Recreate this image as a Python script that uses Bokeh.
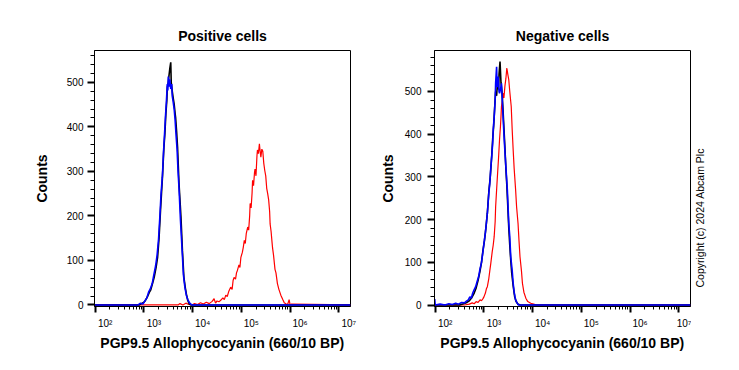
import numpy as np
from bokeh.plotting import figure
from bokeh.layouts import row
from bokeh.models import (Range1d, LogAxis, LogTicker, LogScale, SingleIntervalTicker,
                          CustomJSTickFormatter, Title)
from bokeh.embed import file_html
from bokeh.resources import INLINE

FONT = "Liberation Sans"

# ---------------- data (x as log10 of fluorescence intensity, y as counts) ----------------
x_log_min = 1.985
x_log_max = 7.24
y_ticks_interval = 100

# Positive cells
pos_black_log = [1.985, 2.90, 2.95, 3.00, 3.03, 3.07, 3.11, 3.14, 3.18, 3.21, 3.25, 3.28, 3.31, 3.34, 3.36,
                 3.38, 3.41, 3.43, 3.45, 3.47, 3.48, 3.50, 3.51, 3.53, 3.55, 3.56, 3.58, 3.60, 3.62, 3.64,
                 3.65, 3.67, 3.69, 3.72, 3.74, 3.76, 3.79, 3.82, 3.85, 3.87, 3.90, 3.93, 3.97, 7.24]
pos_black_cnt = [0, 0, 3, 6, 10, 18, 28, 34, 50, 62, 85, 107, 150, 212, 250,
                 287, 354, 385, 429, 460, 489, 500, 511, 530, 545, 500, 481, 465, 451, 430,
                 421, 390, 354, 272, 235, 197, 122, 62, 38, 25, 10, 2, 0, 0]

pos_blue_log = [1.985, 2.88, 2.93, 2.98, 3.02, 3.06, 3.10, 3.13, 3.17, 3.20, 3.24, 3.27, 3.30, 3.33, 3.35,
                3.38, 3.40, 3.42, 3.44, 3.46, 3.48, 3.49, 3.50, 3.52, 3.53, 3.55, 3.57, 3.58, 3.60, 3.62,
                3.64, 3.66, 3.68, 3.70, 3.72, 3.75, 3.77, 3.79, 3.81, 3.84, 3.87, 3.90, 3.94, 3.98, 7.24]
pos_blue_cnt = [0, 0, 4, 2, 9, 16, 30, 36, 48, 66, 88, 112, 148, 205, 248,
                292, 340, 378, 420, 455, 496, 482, 513, 490, 507, 485, 496, 470, 456, 440,
                415, 380, 350, 300, 262, 190, 150, 110, 68, 40, 22, 12, 4, 0, 0]

pos_red_log = [1.985, 3.70, 3.74, 3.80, 3.86, 3.92, 3.98, 4.04, 4.10, 4.16, 4.22, 4.28, 4.34, 4.40, 4.44,
               4.47, 4.50, 4.54, 4.58, 4.62, 4.65, 4.68, 4.71, 4.74, 4.78, 4.81, 4.83, 4.85, 4.88, 4.90,
               4.92, 4.95, 4.97, 4.99, 5.02, 5.04, 5.06, 5.08, 5.10, 5.13, 5.15, 5.17, 5.18, 5.20, 5.22,
               5.23, 5.25, 5.27, 5.28, 5.30, 5.32, 5.33, 5.35, 5.37, 5.38, 5.40, 5.42, 5.44, 5.46, 5.48,
               5.50, 5.52, 5.54, 5.56, 5.58, 5.59, 5.61, 5.63, 5.64, 5.66, 5.69, 5.71, 5.74, 5.77, 5.81,
               5.85, 5.88, 5.92, 5.95, 5.98, 6.00, 6.03, 7.24]
pos_red_cnt = [0, 0, 3, 0, 4, 1, 0, 3, 1, 5, 2, 6, 3, 8, 14,
               4, 9, 7, 11, 16, 12, 22, 19, 30, 40, 35, 55, 62, 58, 72,
               78, 90, 84, 107, 118, 130, 145, 138, 160, 175, 168, 200, 228, 218, 252,
               280, 268, 298, 305, 290, 335, 348, 340, 362, 350, 332, 350, 345, 318, 302,
               290, 262, 250, 236, 210, 182, 165, 140, 128, 112, 80, 72, 48, 35, 22,
               12, 5, 2, 1, 12, 0, 2, 0]

# Negative cells
neg_black_log = [1.985, 2.50, 2.58, 2.65, 2.70, 2.75, 2.80, 2.84, 2.88, 2.92, 2.95, 2.98, 3.01, 3.04, 3.07,
                 3.10, 3.13, 3.16, 3.18, 3.20, 3.22, 3.24, 3.26, 3.28, 3.30, 3.31, 3.33, 3.35, 3.37, 3.39,
                 3.41, 3.43, 3.45, 3.47, 3.49, 3.51, 3.53, 3.55, 3.57, 3.60, 3.63, 3.66, 3.70, 3.75, 7.24]
neg_black_cnt = [0, 0, 3, 6, 10, 17, 28, 40, 58, 80, 100, 128, 150, 180, 215,
                 265, 300, 350, 390, 420, 462, 500, 490, 525, 505, 540, 570, 520, 500, 460,
                 415, 370, 320, 280, 230, 180, 140, 105, 75, 45, 20, 8, 2, 0, 0]

neg_blue_log = [1.985, 1.99, 2.00, 2.10, 2.20, 2.28, 2.35, 2.42, 2.48, 2.54, 2.60, 2.64, 2.68, 2.71, 2.74,
                2.77, 2.80, 2.83, 2.86, 2.89, 2.92, 2.95, 2.98, 3.00, 3.03, 3.05, 3.07, 3.10, 3.12, 3.14,
                3.16, 3.18, 3.19, 3.21, 3.23, 3.24, 3.26, 3.27, 3.29, 3.31, 3.32, 3.34, 3.36, 3.38, 3.41,
                3.43, 3.45, 3.48, 3.51, 3.53, 3.55, 3.58, 3.60, 3.62, 3.65, 3.68, 3.71, 7.24]
neg_blue_cnt = [0, 14, 0, 2, 0, 3, 1, 4, 2, 6, 5, 9, 12, 19, 16,
                28, 36, 43, 55, 66, 85, 100, 125, 144, 170, 192, 215, 262, 285, 320,
                348, 380, 410, 440, 480, 520, 558, 510, 535, 500, 496, 505, 519, 470, 402,
                360, 324, 270, 191, 160, 113, 80, 51, 30, 12, 5, 0, 0]

neg_red_log = [1.985, 2.60, 2.70, 2.76, 2.80, 2.84, 2.88, 2.92, 2.95, 2.98, 3.00, 3.03, 3.05, 3.07, 3.10,
               3.12, 3.14, 3.17, 3.19, 3.21, 3.23, 3.24, 3.26, 3.28, 3.30, 3.32, 3.34, 3.36, 3.38, 3.40,
               3.41, 3.43, 3.45, 3.47, 3.49, 3.51, 3.53, 3.56, 3.58, 3.60, 3.62, 3.65, 3.67, 3.70, 3.72,
               3.74, 3.77, 3.79, 3.82, 3.86, 3.90, 3.96, 4.02, 4.08, 7.24]
neg_red_cnt = [0, 0, 2, 5, 3, 8, 6, 12, 10, 15, 19, 28, 38, 43, 62,
               80, 97, 125, 140, 160, 195, 230, 270, 308, 345, 387, 420, 465, 480, 496,
               485, 512, 530, 555, 540, 527, 500, 465, 410, 363, 320, 270, 230, 191, 150,
               113, 80, 51, 30, 16, 8, 4, 2, 0, 0]

titles = ["Positive cells", "Negative cells"]
y_label = "Counts"
x_label = "PGP9.5 Allophycocyanin (660/10 BP)"
copyright_text = "Copyright (c) 2024 Abcam Plc"
y_limits = [(-3.5, 571.5), (-3.5, 596.0)]

# ---------------- styling / layout constants ----------------
FRAME = 256
TOP = 50
BOTTOM = 56
LABEL_SHIFT_DEC = 0.205   # tick labels sit slightly right of their ticks

SUP_JS = """
const sup = ['\u2070','\u00b9','\u00b2','\u00b3','\u2074','\u2075','\u2076','\u2077','\u2078','\u2079'];
const e = Math.round(Math.log10(tick));
return '10' + String(e).split('').map(d => sup[+d]).join('');
"""


def make_panel(title, curves, ylim, border_left, border_right, ytick_standoff, ylab_standoff):
    p = figure(frame_width=FRAME, frame_height=FRAME, x_axis_type="log",
               x_range=Range1d(10 ** x_log_min, 10 ** x_log_max),
               y_range=Range1d(*ylim),
               output_backend="svg", toolbar_location=None,
               min_border_left=border_left, min_border_right=border_right,
               min_border_top=TOP, min_border_bottom=BOTTOM, title=title)
    p.title.align = "center"
    p.title.text_font = FONT
    p.title.text_font_size = "14px"
    p.title.text_font_style = "bold"
    p.title.text_color = "black"
    p.title.standoff = 13
    p.grid.visible = False
    p.outline_line_color = "black"
    p.outline_line_width = 1
    p.outline_line_alpha = 1
    p.background_fill_color = "white"
    p.border_fill_color = "white"

    for lx, cnt, color, lw in curves:
        p.line(x=np.power(10.0, np.array(lx)), y=cnt, line_color=color, line_width=lw)

    # x axis: ticks only
    xa = p.xaxis[0]
    xa.ticker = LogTicker(num_minor_ticks=10)
    xa.formatter = CustomJSTickFormatter(code="return '';")
    xa.major_label_text_font_size = "0px"
    xa.major_label_standoff = 0
    xa.major_tick_out = 6
    xa.major_tick_in = 0
    xa.minor_tick_out = 3
    xa.minor_tick_in = 0
    xa.major_tick_line_width = 2
    xa.axis_line_color = "black"
    xa.major_tick_line_color = "black"
    xa.minor_tick_line_color = "black"

    # x axis: labels (shifted range so labels sit right of ticks)
    p.extra_x_ranges = {"lab": Range1d(10 ** (x_log_min - LABEL_SHIFT_DEC),
                                       10 ** (x_log_max - LABEL_SHIFT_DEC))}
    p.extra_x_scales = {"lab": LogScale()}
    xl = LogAxis(x_range_name="lab", ticker=LogTicker(num_minor_ticks=10),
                 formatter=CustomJSTickFormatter(code=SUP_JS))
    xl.axis_line_color = None
    xl.major_tick_line_color = None
    xl.minor_tick_line_color = None
    xl.major_tick_out = 0
    xl.minor_tick_out = 0
    xl.major_tick_in = 0
    xl.minor_tick_in = 0
    xl.major_label_standoff = 5
    xl.major_label_text_font = FONT
    xl.major_label_text_font_size = "10px"
    xl.major_label_text_color = "black"
    xl.axis_label = x_label
    xl.axis_label_text_font = FONT
    xl.axis_label_text_font_size = "14px"
    xl.axis_label_text_font_style = "bold"
    xl.axis_label_text_color = "black"
    xl.axis_label_standoff = 3
    p.add_layout(xl, "below")

    # y axis
    ya = p.yaxis[0]
    ya.ticker = SingleIntervalTicker(interval=y_ticks_interval, num_minor_ticks=5)
    ya.major_tick_out = 7
    ya.major_tick_in = 0
    ya.minor_tick_out = 4
    ya.minor_tick_in = 0
    ya.major_tick_line_width = 2
    ya.axis_line_color = "black"
    ya.major_tick_line_color = "black"
    ya.minor_tick_line_color = "black"
    ya.major_label_text_font = FONT
    ya.major_label_text_font_size = "10px"
    ya.major_label_text_color = "black"
    ya.major_label_standoff = ytick_standoff
    ya.axis_label = y_label
    ya.axis_label_text_font = FONT
    ya.axis_label_text_font_size = "14px"
    ya.axis_label_text_font_style = "bold"
    ya.axis_label_text_color = "black"
    ya.axis_label_standoff = ylab_standoff
    return p


p1 = make_panel(titles[0],
                [(pos_red_log, pos_red_cnt, "#ff0000", 1.2),
                 (pos_black_log, pos_black_cnt, "#000000", 1.6),
                 (pos_blue_log, pos_blue_cnt, "#0000ff", 1.6)],
                y_limits[0], 94, 10, 4, 14)

p2 = make_panel(titles[1],
                [(neg_red_log, neg_red_cnt, "#ff0000", 1.2),
                 (neg_black_log, neg_black_cnt, "#000000", 1.6),
                 (neg_blue_log, neg_blue_cnt, "#0000ff", 1.6)],
                y_limits[1], 74, 1, 6, 6)

# narrow side panel carrying the vertical copyright note (reads bottom-to-top);
# its frame matches the histogram frames so the row stays aligned
p3 = figure(frame_width=10, frame_height=FRAME, output_backend="svg", toolbar_location=None,
            x_axis_location=None, y_axis_location=None,
            min_border_left=0, min_border_right=0,
            min_border_top=TOP, min_border_bottom=BOTTOM)
p3.outline_line_color = None
p3.grid.visible = False
p3.background_fill_color = "white"
p3.border_fill_color = "white"
p3.add_layout(Title(text=copyright_text, align="left", offset=19, text_font=FONT,
                    text_font_size="10.5px", text_font_style="normal",
                    text_color="black", standoff=0), "left")

layout = row(p1, p2, p3)
open("out.html", "w").write(file_html(layout, INLINE))
